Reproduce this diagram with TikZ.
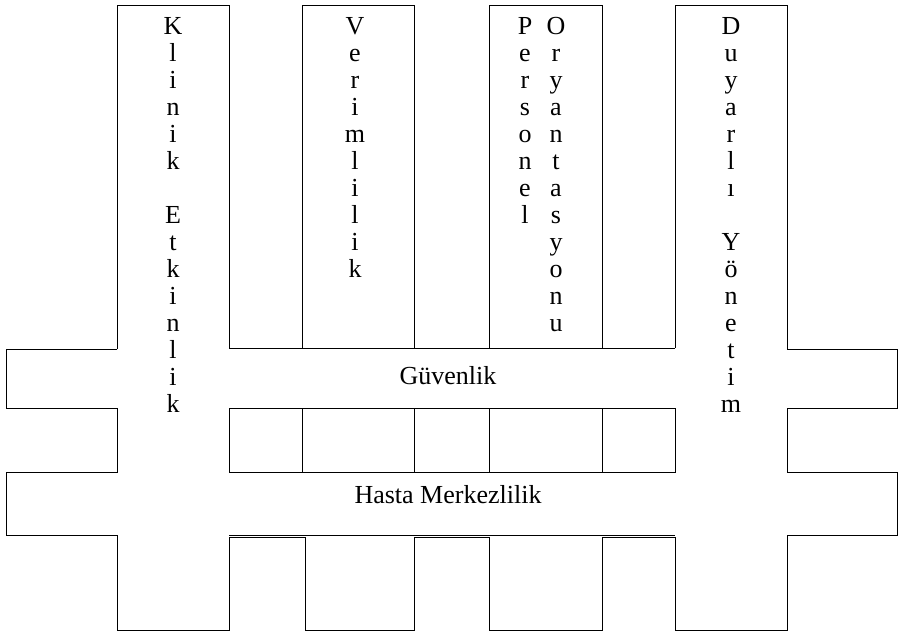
\documentclass[tikz,border=0pt]{standalone}
\usepackage{fontspec}
\setmainfont{Liberation Serif}
\begin{document}
\begin{tikzpicture}[x=1pt,y=-1pt,line width=1pt,
  stack/.style={anchor=north,inner sep=0pt,align=center,font=\fontsize{26}{27}\selectfont},
  bar/.style={inner sep=0pt,font=\fontsize{26}{27}\selectfont}]
\useasboundingbox (0,0) rectangle (898,632);

% outer rim
\draw (117,349) -- (6,349) -- (6,408) -- (117,408) -- (117,472) -- (6,472) -- (6,535) -- (117,535)
  -- (117,630) -- (229,630) -- (229,537) -- (305,537) -- (305,630) -- (414,630) -- (414,537)
  -- (489,537) -- (489,630) -- (602,630) -- (602,537) -- (675,537) -- (675,630) -- (787,630)
  -- (787,535) -- (897,535) -- (897,472) -- (787,472) -- (787,408) -- (897,408) -- (897,349) -- (787,349);

% columns
\draw (117,349) -- (117,5) -- (229,5) -- (229,348);
\draw (302,348) -- (302,5) -- (414,5) -- (414,348);
\draw (489,348) -- (489,5) -- (602,5) -- (602,348);
\draw (675,348) -- (675,5) -- (787,5) -- (787,349);
\draw (229,348) -- (675,348);

% cells between the bars
\draw (229,408) rectangle (675,472);
\foreach \x in {302,414,489,602}
  \draw (\x,408) -- (\x,472);
\draw (229,535) -- (675,535);

\node[stack] (klinik) at (173,17) {K\\l\\i\\n\\i\\k\\~\\E\\t\\k\\i\\n\\l\\i\\k};
\node[stack] (verim) at (355,17) {V\\e\\r\\i\\m\\l\\i\\l\\i\\k};
\node[stack] (personel) at (525,17) {P\\e\\r\\s\\o\\n\\e\\l};
\node[stack] (oryant) at (556,17) {O\\r\\y\\a\\n\\t\\a\\s\\y\\o\\n\\u};
\node[stack] (duyarli) at (731,17) {D\\u\\y\\a\\r\\l\\ı\\~\\Y\\ö\\n\\e\\t\\i\\m};

\node[bar] (guvenlik) at (448,376) {Güvenlik};
\node[bar] (hasta) at (448,495) {Hasta Merkezlilik};
\end{tikzpicture}
\end{document}
